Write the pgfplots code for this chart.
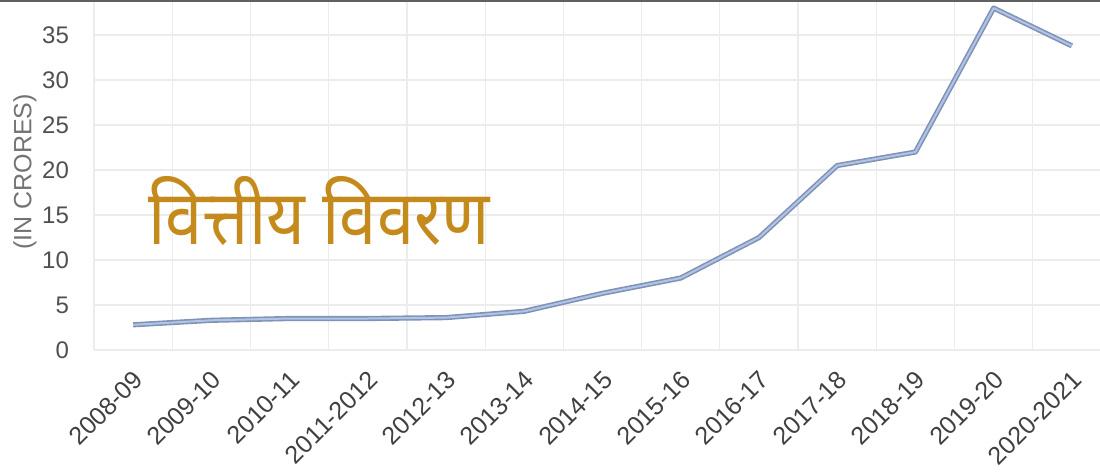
\documentclass[border=0pt]{standalone}
\usepackage{pgfplots}
\pgfplotsset{compat=1.18}
\usepackage{fontspec}
\setmainfont{Liberation Sans}
\newfontfamily\devfont[Script=Devanagari]{Noto Sans}
\definecolor{titlegold}{RGB}{196,139,28}
\definecolor{lineout}{RGB}{128,146,182}
\definecolor{linein}{RGB}{178,196,230}
\definecolor{gridc}{RGB}{236,236,236}
\definecolor{tickc}{RGB}{80,80,80}
\pgfplotstableread{
x y
0 2.8
1 3.3
2 3.5
3 3.5
4 3.6
5 4.3
6 6.3
7 8.0
8 12.5
9 20.5
10 22.0
11 38.0
12 33.8
}\datatable
\begin{document}
\begin{tikzpicture}[x=0.5pt,y=0.5pt]
\useasboundingbox (0,0) rectangle (1100,472);
\fill[white] (0,0) rectangle (1100,472);
\clip (0,0) rectangle (1100,472);
\begin{axis}[
  at={(47pt,61pt)}, anchor=south west,
  scale only axis, width=508.5pt, height=175pt,
  xmin=-0.5, xmax=12.5, ymin=0, ymax=38.9,
  clip=false,
  axis line style={draw=none},
  major tick length=0pt, minor tick length=0pt,
  xtick={0,...,12},
  xticklabels={2008-09,2009-10,2010-11,2011-2012,2012-13,2013-14,2014-15,2015-16,2016-17,2017-18,2018-19,2019-20,2020-2021},
  minor xtick={-0.5,0.5,...,12.5},
  xminorgrids=true,
  ytick={0,5,...,35},
  ymajorgrids=true,
  grid style={gridc, line width=0.6pt},
  minor grid style={gridc, line width=0.6pt},
  /pgf/number format/assume math mode=true,
  yticklabel style={font=\fontsize{12}{14}\selectfont, text=tickc, xshift=-9pt},
  xticklabel style={font=\fontsize{12.5}{15}\selectfont, text=black!75, xshift=3.5pt, yshift=-12pt, rotate=45, anchor=east, inner sep=1pt},
]
\addplot[lineout, line width=2.6pt, line join=round] table[x=x,y=y] {\datatable};
\addplot[linein, line width=1.0pt, line join=round] table[x=x,y=y] {\datatable};
\end{axis}
\draw[gray!75!black, line width=1.2pt] (0,471.5) -- (1100,471.5);
\node[rotate=90, font=\fontsize{12.5}{14}\selectfont, text=black!55] at (25,300) {(IN CRORES)};
\node[anchor=base west, inner sep=0pt, xscale=0.88, font=\devfont\fontsize{38}{44}\selectfont, text=titlegold] at (148,227) {वित्तीय विवरण};
\end{tikzpicture}
\end{document}
